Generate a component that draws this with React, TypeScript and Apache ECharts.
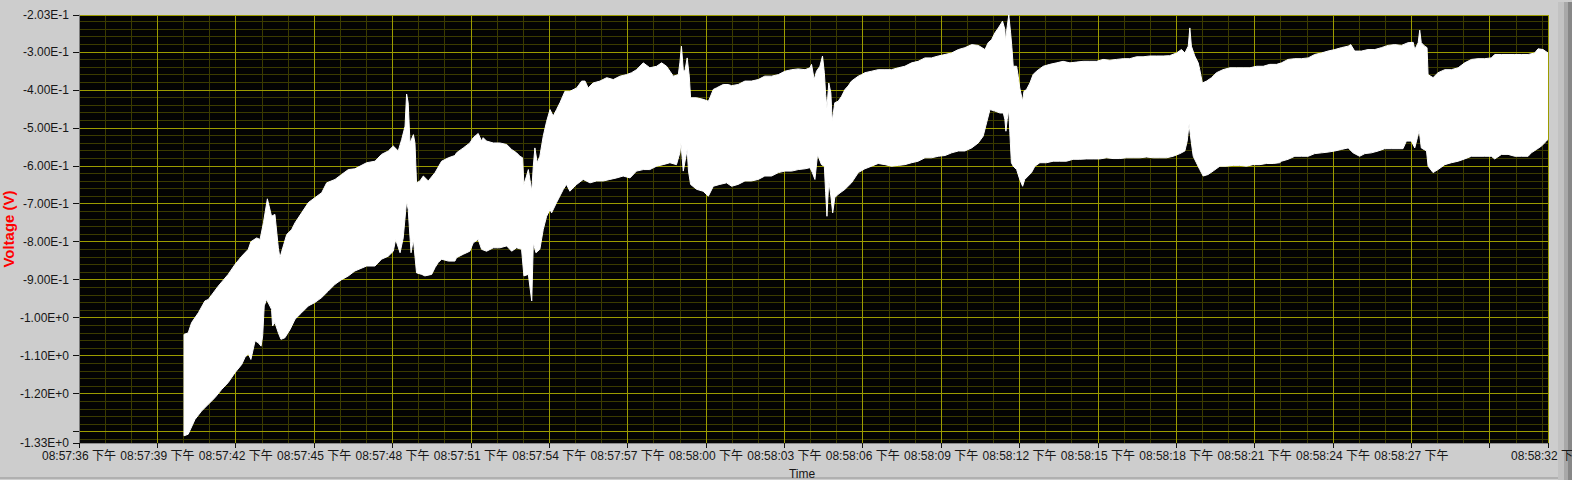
import React, { useEffect, useRef } from "react";
import * as echarts from "echarts";

// Time axis: seconds after 08:57:36 (下午)
const START_HOUR = 8;
const START_MIN = 57;
const START_SEC = 36;
const TIME_MIN = 0;
const TIME_MAX = 56.23;
const TIME_STEP = 3;
const HIDDEN_TIME_LABEL = 54;

// Voltage axis
const VOLT_MIN = -1.33;
const VOLT_MAX = -0.203;
const HIDDEN_VOLT_LABEL = -1.3;

// Upper envelope of the noisy voltage trace: [seconds, volts]
const upperEnvelope: number[][] = [
  [4.02, -1.044], [4.18, -1.04], [4.31, -1.013], [4.57, -0.987], [4.82, -0.956], [4.95, -0.952],
  [5.33, -0.917], [5.71, -0.886], [5.97, -0.86], [6.23, -0.838], [6.48, -0.82], [6.58, -0.8],
  [6.8, -0.79], [6.93, -0.794], [7.06, -0.75], [7.21, -0.687], [7.37, -0.733], [7.5, -0.728],
  [7.63, -0.816], [7.69, -0.842], [7.95, -0.781], [8.14, -0.768], [8.27, -0.75], [8.52, -0.724],
  [8.78, -0.697], [9.03, -0.684], [9.29, -0.671], [9.48, -0.645], [9.8, -0.636], [10.05, -0.623],
  [10.31, -0.61], [10.56, -0.608], [11.01, -0.592], [11.33, -0.588], [11.58, -0.57], [11.84, -0.561],
  [12.03, -0.548], [12.22, -0.561], [12.35, -0.531], [12.48, -0.496], [12.54, -0.411], [12.6, -0.434],
  [12.67, -0.54], [12.8, -0.518], [12.86, -0.54], [12.92, -0.645], [13.05, -0.64], [13.18, -0.627],
  [13.37, -0.64], [13.63, -0.618], [13.88, -0.588], [14.14, -0.579], [14.39, -0.573],
  [14.45, -0.566], [14.71, -0.553], [14.96, -0.54], [15.09, -0.526], [15.28, -0.515], [15.41, -0.535],
  [15.47, -0.526], [15.6, -0.535], [15.86, -0.54], [16.11, -0.54], [16.37, -0.544], [16.56, -0.557],
  [16.75, -0.566], [16.88, -0.575], [16.98, -0.579], [17.03, -0.649], [17.13, -0.627], [17.2, -0.61],
  [17.26, -0.636], [17.33, -0.667], [17.39, -0.601], [17.45, -0.553], [17.54, -0.592], [17.64, -0.575],
  [17.77, -0.522], [17.9, -0.483], [18.03, -0.452], [18.15, -0.469], [18.28, -0.452], [18.41, -0.434],
  [18.6, -0.404], [18.79, -0.404], [19.05, -0.395], [19.24, -0.377], [19.37, -0.377], [19.49, -0.395],
  [19.68, -0.382], [19.94, -0.377], [20.2, -0.368], [20.45, -0.373], [20.71, -0.364], [20.96, -0.36],
  [21.15, -0.355], [21.34, -0.347], [21.6, -0.329], [21.85, -0.342], [22.11, -0.338], [22.3, -0.329],
  [22.49, -0.338], [22.62, -0.351], [22.75, -0.364], [22.94, -0.36], [23.0, -0.329], [23.06, -0.285],
  [23.13, -0.347], [23.19, -0.351], [23.28, -0.316], [23.36, -0.364], [23.41, -0.421], [23.64, -0.421],
  [23.89, -0.425], [24.09, -0.43], [24.15, -0.421], [24.28, -0.399], [24.4, -0.395], [24.66, -0.386],
  [24.85, -0.386], [24.98, -0.389], [25.23, -0.386], [25.49, -0.377], [25.74, -0.377], [26.0, -0.373],
  [26.25, -0.364], [26.51, -0.364], [26.77, -0.36], [27.02, -0.351], [27.28, -0.347], [27.53, -0.345],
  [27.79, -0.347], [27.98, -0.342], [28.04, -0.333], [28.14, -0.373], [28.23, -0.351], [28.36, -0.338],
  [28.46, -0.311], [28.53, -0.355], [28.58, -0.412], [28.63, -0.447], [28.7, -0.382], [28.78, -0.408],
  [28.83, -0.483], [28.93, -0.434], [29.06, -0.43], [29.19, -0.417], [29.32, -0.399], [29.44, -0.39],
  [29.57, -0.377], [29.83, -0.364], [29.96, -0.36], [30.08, -0.355], [30.34, -0.351], [30.59, -0.347],
  [30.85, -0.347], [31.1, -0.347], [31.36, -0.342], [31.61, -0.338], [31.87, -0.329], [32.12, -0.325],
  [32.38, -0.316], [32.63, -0.316], [32.89, -0.311], [33.15, -0.307], [33.4, -0.303], [33.66, -0.294],
  [33.91, -0.289], [34.17, -0.281], [34.42, -0.283], [34.68, -0.294], [34.8, -0.276], [34.93, -0.268],
  [35.06, -0.25], [35.19, -0.237], [35.31, -0.224], [35.35, -0.219], [35.44, -0.241], [35.46, -0.272],
  [35.53, -0.233], [35.59, -0.203], [35.66, -0.25], [35.71, -0.289], [35.76, -0.338], [35.89, -0.338],
  [35.95, -0.364], [36.01, -0.395], [36.12, -0.43], [36.17, -0.404], [36.27, -0.399], [36.4, -0.382],
  [36.52, -0.36], [36.65, -0.351], [36.91, -0.338], [37.16, -0.333], [37.42, -0.329], [37.67, -0.325],
  [37.93, -0.329], [38.18, -0.327], [38.44, -0.325], [38.69, -0.325], [38.95, -0.325], [39.2, -0.32],
  [39.46, -0.322], [39.71, -0.32], [39.97, -0.318], [40.22, -0.318], [40.48, -0.313], [40.73, -0.313],
  [40.99, -0.311], [41.24, -0.311], [41.5, -0.311], [41.75, -0.31], [42.01, -0.303], [42.2, -0.294],
  [42.33, -0.303], [42.46, -0.285], [42.52, -0.237], [42.58, -0.285], [42.71, -0.311], [42.84, -0.329],
  [42.9, -0.347], [43.0, -0.382], [43.16, -0.377], [43.35, -0.368], [43.54, -0.355], [43.79, -0.347],
  [44.05, -0.342], [44.3, -0.342], [44.56, -0.342], [44.82, -0.342], [45.07, -0.338], [45.33, -0.338],
  [45.58, -0.333], [45.84, -0.333], [46.03, -0.329], [46.28, -0.32], [46.54, -0.318], [46.79, -0.318],
  [47.05, -0.316], [47.3, -0.307], [47.56, -0.303], [47.81, -0.298], [48.07, -0.294], [48.32, -0.289],
  [48.58, -0.285], [48.68, -0.281], [48.83, -0.298], [49.09, -0.298], [49.34, -0.294], [49.6, -0.294],
  [49.85, -0.289], [50.11, -0.283], [50.36, -0.281], [50.62, -0.283], [50.87, -0.276], [51.07, -0.275],
  [51.13, -0.294], [51.26, -0.276], [51.32, -0.243], [51.38, -0.276], [51.51, -0.285], [51.6, -0.289],
  [51.64, -0.36], [51.83, -0.368], [52.02, -0.355], [52.28, -0.347], [52.53, -0.347], [52.79, -0.342],
  [53.04, -0.329], [53.3, -0.32], [53.55, -0.318], [53.81, -0.318], [54.06, -0.316], [54.19, -0.307],
  [54.45, -0.307], [54.7, -0.307], [54.96, -0.307], [55.21, -0.307], [55.47, -0.307], [55.72, -0.303],
  [55.85, -0.292], [56.04, -0.294], [56.23, -0.303],
];

// Lower envelope of the noisy voltage trace: [seconds, volts]
const lowerEnvelope: number[][] = [
  [4.02, -1.311], [4.18, -1.307], [4.44, -1.268], [4.69, -1.246], [4.95, -1.228], [5.2, -1.211],
  [5.46, -1.189], [5.71, -1.171], [5.97, -1.145], [6.23, -1.123], [6.35, -1.105], [6.48, -1.095],
  [6.58, -1.11], [6.74, -1.061], [6.86, -1.066], [6.97, -1.075], [7.03, -1.048], [7.09, -0.969],
  [7.18, -0.952], [7.37, -0.978], [7.41, -1.022], [7.5, -1.013], [7.63, -1.04], [7.73, -1.057],
  [7.88, -1.053], [8.08, -1.031], [8.27, -1.004], [8.52, -0.987], [8.78, -0.969], [9.03, -0.96],
  [9.29, -0.947], [9.54, -0.93], [9.8, -0.912], [10.05, -0.9], [10.31, -0.89], [10.56, -0.877],
  [11.01, -0.864], [11.33, -0.864], [11.58, -0.846], [11.84, -0.838], [12.03, -0.825], [12.12, -0.794],
  [12.29, -0.829], [12.41, -0.79], [12.54, -0.693], [12.6, -0.715], [12.71, -0.829], [12.8, -0.794],
  [12.86, -0.838], [12.92, -0.882], [13.12, -0.886], [13.24, -0.89], [13.5, -0.886], [13.63, -0.868],
  [13.75, -0.855], [13.88, -0.846], [14.14, -0.851], [14.39, -0.851], [14.45, -0.842], [14.71, -0.833],
  [14.96, -0.825], [15.09, -0.803], [15.28, -0.794], [15.41, -0.82], [15.6, -0.825], [15.86, -0.816],
  [16.11, -0.816], [16.37, -0.811], [16.56, -0.825], [16.75, -0.816], [16.94, -0.82], [17.03, -0.89],
  [17.2, -0.886], [17.33, -0.956], [17.39, -0.803], [17.49, -0.829], [17.64, -0.82], [17.77, -0.768],
  [17.9, -0.733], [18.03, -0.715], [18.09, -0.724], [18.28, -0.697], [18.54, -0.662], [18.66, -0.649],
  [18.79, -0.667], [19.05, -0.649], [19.3, -0.636], [19.56, -0.645], [19.81, -0.64], [20.07, -0.64],
  [20.32, -0.636], [20.58, -0.632], [20.83, -0.627], [21.09, -0.632], [21.34, -0.614], [21.6, -0.61],
  [21.85, -0.61], [22.11, -0.601], [22.36, -0.597], [22.62, -0.592], [22.87, -0.597], [23.0, -0.566],
  [23.04, -0.54], [23.13, -0.614], [23.28, -0.557], [23.33, -0.614], [23.41, -0.649], [23.64, -0.662],
  [23.89, -0.667], [24.09, -0.68], [24.28, -0.654], [24.53, -0.649], [24.79, -0.645], [24.98, -0.654],
  [25.23, -0.649], [25.49, -0.64], [25.74, -0.64], [26.0, -0.636], [26.25, -0.627], [26.51, -0.627],
  [26.77, -0.618], [27.02, -0.614], [27.28, -0.614], [27.53, -0.61], [27.79, -0.608], [27.98, -0.605],
  [28.07, -0.618], [28.17, -0.636], [28.27, -0.57], [28.42, -0.597], [28.53, -0.601], [28.58, -0.671],
  [28.63, -0.733], [28.7, -0.64], [28.78, -0.68], [28.85, -0.724], [28.93, -0.684], [29.06, -0.675],
  [29.32, -0.662], [29.57, -0.645], [29.83, -0.618], [30.08, -0.608], [30.34, -0.601], [30.59, -0.594],
  [30.85, -0.597], [31.1, -0.601], [31.36, -0.599], [31.61, -0.597], [31.87, -0.592], [32.12, -0.588],
  [32.38, -0.579], [32.63, -0.579], [32.89, -0.575], [33.15, -0.573], [33.4, -0.566], [33.66, -0.561],
  [33.91, -0.561], [34.17, -0.553], [34.42, -0.54], [34.61, -0.522], [34.74, -0.487], [34.87, -0.452],
  [35.06, -0.456], [35.25, -0.461], [35.38, -0.461], [35.44, -0.478], [35.48, -0.509], [35.53, -0.478],
  [35.59, -0.452], [35.63, -0.513], [35.69, -0.592], [35.76, -0.601], [35.89, -0.61], [36.01, -0.636],
  [36.12, -0.654], [36.2, -0.636], [36.33, -0.627], [36.46, -0.618], [36.59, -0.601], [36.78, -0.592],
  [37.03, -0.592], [37.29, -0.588], [37.54, -0.588], [37.8, -0.588], [38.05, -0.583], [38.31, -0.583],
  [38.56, -0.582], [38.82, -0.582], [39.07, -0.582], [39.33, -0.579], [39.58, -0.581], [39.84, -0.581],
  [40.1, -0.579], [40.35, -0.579], [40.61, -0.579], [40.86, -0.577], [41.12, -0.579], [41.37, -0.579],
  [41.63, -0.579], [41.88, -0.575], [42.14, -0.568], [42.33, -0.561], [42.42, -0.535], [42.49, -0.491],
  [42.58, -0.54], [42.65, -0.575], [42.77, -0.592], [42.9, -0.61], [43.03, -0.627], [43.22, -0.623],
  [43.41, -0.614], [43.67, -0.601], [43.92, -0.601], [44.18, -0.599], [44.43, -0.599], [44.69, -0.601],
  [44.94, -0.597], [45.2, -0.597], [45.45, -0.594], [45.71, -0.594], [45.96, -0.592], [46.03, -0.588],
  [46.28, -0.583], [46.54, -0.575], [46.79, -0.575], [47.05, -0.575], [47.3, -0.568], [47.56, -0.566],
  [47.81, -0.564], [48.07, -0.561], [48.32, -0.557], [48.58, -0.553], [48.77, -0.566], [49.02, -0.575],
  [49.22, -0.568], [49.47, -0.566], [49.73, -0.561], [49.98, -0.555], [50.24, -0.555], [50.49, -0.555],
  [50.68, -0.555], [50.81, -0.535], [51.0, -0.535], [51.13, -0.553], [51.23, -0.526], [51.3, -0.506],
  [51.38, -0.553], [51.58, -0.561], [51.64, -0.601], [51.83, -0.618], [52.02, -0.61], [52.28, -0.597],
  [52.53, -0.592], [52.79, -0.588], [53.04, -0.582], [53.3, -0.575], [53.55, -0.575], [53.81, -0.575],
  [54.06, -0.575], [54.19, -0.582], [54.45, -0.57], [54.7, -0.57], [54.96, -0.575], [55.21, -0.575],
  [55.47, -0.575], [55.59, -0.566], [55.79, -0.557], [55.98, -0.548], [56.17, -0.535], [56.23, -0.53],
];

const FONT = "'Liberation Sans', Arial, 'Noto Sans CJK SC', sans-serif";
const MAJOR_GRID = "#9c9c00";
const MINOR_GRID = "#3b3b00";
const PLOT_BG = "#030303";
const PANEL_BG = "#cdcdcd";

const pad2 = (n: number) => (n < 10 ? "0" + n : String(n));

function formatTime(t: number): string {
  if (Math.abs(t - HIDDEN_TIME_LABEL) < 1e-6) return "";
  const total = START_HOUR * 3600 + START_MIN * 60 + START_SEC + Math.floor(t + 1e-6);
  const h = Math.floor(total / 3600);
  const m = Math.floor((total % 3600) / 60);
  const s = total % 60;
  return `${pad2(h)}:${pad2(m)}:${pad2(s)} 下午`;
}

function formatVolt(v: number): string {
  if (Math.abs(v - HIDDEN_VOLT_LABEL) < 1e-9) return "";
  return v.toExponential(2).replace("e", "E");
}

export default function App() {
  const ref = useRef<HTMLDivElement>(null);

  useEffect(() => {
    if (!ref.current) return;
    const chart = echarts.init(ref.current, undefined, { renderer: "svg" });

    const labelStyle = { color: "#161616", fontSize: 12, fontFamily: FONT };

    const option: any = {
      animation: false,
      backgroundColor: PANEL_BG,
      grid: {
        left: 79,
        top: 15,
        width: 1469,
        height: 428,
        show: true,
        containLabel: false,
        outerBoundsMode: "none",
        backgroundColor: PLOT_BG,
        borderWidth: 0,
      },
      xAxis: [
        {
          type: "value",
          min: TIME_MIN,
          max: TIME_MAX,
          interval: TIME_STEP,
          z: 1,
          name: "Time",
          nameLocation: "middle",
          nameGap: 25,
          nameMoveOverlap: false,
          nameTextStyle: { color: "#161616", fontSize: 12, fontFamily: FONT, padding: [0, 23, 0, 0] },
          axisLine: { show: true, lineStyle: { color: "#8a8a8a", width: 1 } },
          axisTick: { show: true, length: 5, lineStyle: { color: "#111", width: 1 } },
          axisLabel: { ...labelStyle, margin: 7, formatter: formatTime },
          splitLine: { show: true, lineStyle: { color: MAJOR_GRID, width: 1 } },
          minorTick: { show: false, splitNumber: 3 },
          minorSplitLine: { show: false },
        },
        {
          type: "value",
          min: TIME_MIN,
          max: TIME_MAX,
          interval: TIME_STEP,
          z: 0,
          axisLine: { show: false },
          axisTick: { show: false },
          axisLabel: { show: false },
          splitLine: { show: false },
          minorTick: { show: false, splitNumber: 3 },
          minorSplitLine: { show: true, lineStyle: { color: MINOR_GRID, width: 1 } },
        },
      ],
      yAxis: [
        {
          type: "value",
          min: VOLT_MIN,
          max: VOLT_MAX,
          splitNumber: 11,
          z: 1,
          name: "Voltage (V)",
          nameLocation: "middle",
          nameGap: 63,
          nameMoveOverlap: false,
          nameTextStyle: { color: "#ff0000", fontSize: 15, fontWeight: "bold", fontFamily: FONT },
          axisLine: { show: true, lineStyle: { color: "#7a7a7a", width: 1 } },
          axisTick: { show: true, length: 6, lineStyle: { color: "#111", width: 1 } },
          axisLabel: { ...labelStyle, margin: 10, formatter: formatVolt },
          splitLine: { show: true, lineStyle: { color: MAJOR_GRID, width: 1 } },
          minorTick: { show: false, splitNumber: 5 },
          minorSplitLine: { show: false },
        },
        {
          type: "value",
          min: VOLT_MIN,
          max: VOLT_MAX,
          splitNumber: 11,
          position: "left",
          z: 0,
          axisLine: { show: false },
          axisTick: { show: false },
          axisLabel: { show: false },
          splitLine: { show: false },
          minorTick: { show: false, splitNumber: 5 },
          minorSplitLine: { show: true, lineStyle: { color: MINOR_GRID, width: 1 } },
        },
      ],
      graphic: [
        { type: "rect", z: -1, silent: true, shape: { x: 1558, y: 2, width: 6, height: 478 }, style: { fill: "#c2c2c2" } },
        { type: "rect", z: -1, silent: true, shape: { x: 1564, y: 2, width: 4, height: 478 }, style: { fill: "#a8a8a8" } },
        { type: "rect", z: -1, silent: true, shape: { x: 1568, y: 2, width: 4, height: 478 }, style: { fill: "#878787" } },
        { type: "rect", z: -1, silent: true, shape: { x: 0, y: 477, width: 1558, height: 2 }, style: { fill: "#b0b0b0" } },
      ],
      series: [
        {
          type: "custom",
          name: "Voltage",
          xAxisIndex: 0,
          yAxisIndex: 0,
          clip: true,
          silent: true,
          z: 3,
          encode: { x: 0, y: 1 },
          data: [upperEnvelope[0]],
          renderItem: (_params: any, api: any) => {
            const pts: number[][] = [];
            for (let i = 0; i < upperEnvelope.length; i++) {
              pts.push(api.coord(upperEnvelope[i]));
            }
            for (let i = lowerEnvelope.length - 1; i >= 0; i--) {
              pts.push(api.coord(lowerEnvelope[i]));
            }
            return {
              type: "polygon",
              shape: { points: pts },
              style: { fill: "#ffffff", stroke: "#ffffff", lineWidth: 1 },
            };
          },
        },
      ],
    };

    chart.setOption(option);
    return () => {
      chart.dispose();
    };
  }, []);

  return (
    <div
      ref={ref}
      style={{ position: "absolute", left: 0, top: 0, width: 1572, height: 480 }}
    />
  );
}
